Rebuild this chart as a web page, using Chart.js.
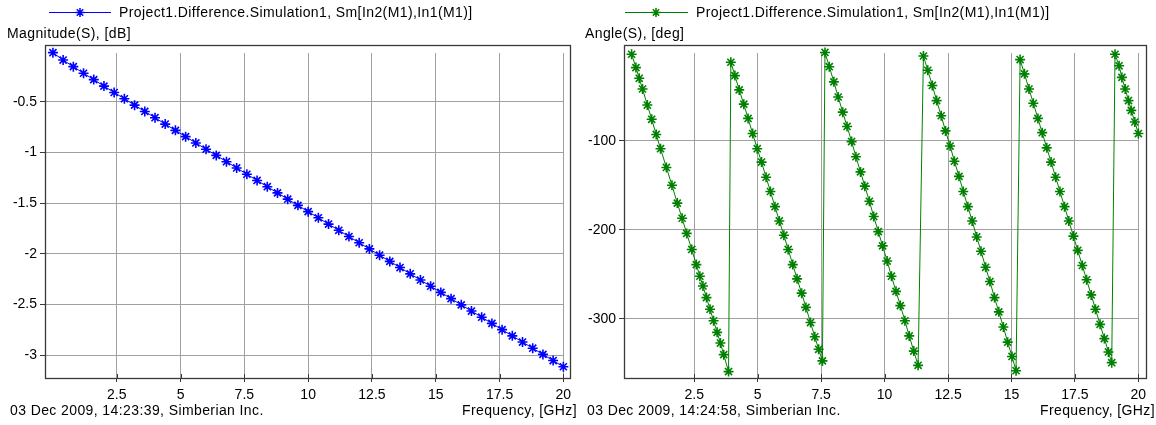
<!DOCTYPE html>
<html><head><meta charset="utf-8">
<script src="https://cdn.jsdelivr.net/npm/chart.js@4.4.0/dist/chart.umd.min.js"></script>
<style>
html,body{margin:0;padding:0;background:#fff;}
#wrap{position:relative;width:1156px;height:425px;overflow:hidden;background:#fff;}
canvas{position:absolute;top:0;}
#c1{left:0;}
#c2{left:578px;}
</style></head><body>
<div id="wrap"><canvas id="c1" width="578" height="425"></canvas><canvas id="c2" width="578" height="425"></canvas></div>
<script>
const SERIES_NAME = 'Project1.Difference.Simulation1, Sm[In2(M1),In1(M1)]';
const MAG_TITLE = 'Magnitude(S), [dB]';
const ANG_TITLE = 'Angle(S), [deg]';
const MAG_STAMP = '03 Dec 2009, 14:23:39, Simberian Inc.';
const ANG_STAMP = '03 Dec 2009, 14:24:58, Simberian Inc.';
const X_TITLE = 'Frequency, [GHz]';

const X_TICKS = [2.5, 5, 7.5, 10, 12.5, 15, 17.5, 20];
const X_TICK_LABELS = ['2.5', '5', '7.5', '10', '12.5', '15', '17.5', '20'];
const MAG_TICKS = [-0.5, -1, -1.5, -2, -2.5, -3];
const MAG_TICK_LABELS = ['-0.5', '-1', '-1.5', '-2', '-2.5', '-3'];
const ANG_TICKS = [-100, -200, -300];
const ANG_TICK_LABELS = ['-100', '-200', '-300'];

const MAG_FREQ = [0, 0.4, 0.8, 1.2, 1.6, 2, 2.4, 2.8, 3.2, 3.6, 4, 4.4, 4.8, 5.2, 5.6, 6, 6.4, 6.8, 7.2, 7.6,
  8, 8.4, 8.8, 9.2, 9.6, 10, 10.4, 10.8, 11.2, 11.6, 12, 12.4, 12.8, 13.2, 13.6, 14, 14.4, 14.8, 15.2, 15.6,
  16, 16.4, 16.8, 17.2, 17.6, 18, 18.4, 18.8, 19.2, 19.6, 20];
const MAG_DB = [-0.016, -0.089, -0.154, -0.219, -0.282, -0.346, -0.409, -0.471, -0.534, -0.596, -0.658, -0.721,
  -0.783, -0.845, -0.907, -0.969, -1.030, -1.092, -1.154, -1.216, -1.277, -1.339, -1.400, -1.462, -1.523, -1.585,
  -1.646, -1.708, -1.769, -1.831, -1.892, -1.953, -2.015, -2.076, -2.137, -2.199, -2.260, -2.321, -2.382, -2.444,
  -2.505, -2.566, -2.627, -2.688, -2.750, -2.811, -2.872, -2.933, -2.994, -3.055, -3.116];

const ANG_FREQ = [
  0.03, 0.2, 0.33, 0.46, 0.65, 0.82, 1.0, 1.17, 1.4, 1.62, 1.83, 2.02, 2.2, 2.4, 2.58, 2.72, 2.84, 2.98, 3.12, 3.26, 3.4, 3.53, 3.66, 3.85,
  3.94, 4.1, 4.27, 4.45, 4.62, 4.8, 4.98, 5.15, 5.33, 5.5, 5.68, 5.85, 6.03, 6.2, 6.38, 6.55, 6.73, 6.9, 7.08, 7.25, 7.4, 7.55,
  7.65, 7.82, 8.0, 8.17, 8.35, 8.52, 8.7, 8.87, 9.05, 9.22, 9.4, 9.57, 9.75, 9.92, 10.1, 10.27, 10.45, 10.62, 10.8, 10.97, 11.15, 11.32,
  11.53, 11.7, 11.88, 12.05, 12.23, 12.4, 12.58, 12.75, 12.93, 13.1, 13.28, 13.45, 13.63, 13.8, 13.98, 14.15, 14.33, 14.5, 14.68, 14.85, 15.02, 15.18,
  15.34, 15.51, 15.69, 15.86, 16.04, 16.21, 16.39, 16.56, 16.74, 16.91, 17.09, 17.26, 17.44, 17.61, 17.79, 17.96, 18.14, 18.31, 18.49, 18.66, 18.82, 18.95,
  19.08, 19.24, 19.35, 19.48, 19.61, 19.72, 19.86, 20.0];
const ANG_DEG = [
  -3, -18, -30, -42, -60, -76, -93, -109, -130, -150, -170, -187, -204, -222, -239, -252, -263, -276, -289, -302, -315, -327, -340, -359,
  -12, -27, -43, -59, -75, -92, -109, -124, -141, -157, -174, -190, -206, -222, -239, -255, -271, -287, -304, -320, -334, -347,
  -1, -17, -34, -51, -68, -84, -101, -118, -135, -151, -168, -185, -202, -218, -235, -252, -269, -285, -302, -319, -336, -352,
  -5, -21, -38, -55, -72, -89, -106, -123, -140, -157, -174, -190, -208, -224, -242, -258, -276, -292, -309, -326, -342, -358,
  -9, -25, -42, -58, -75, -91, -108, -124, -141, -157, -174, -190, -207, -223, -240, -256, -273, -289, -306, -322, -337, -349,
  -3, -16, -29, -42, -55, -66, -79, -92];

const FONT_FAMILY = '"Liberation Sans", Arial, sans-serif';
const FONT_SIZE = 14;
Chart.defaults.font.family = FONT_FAMILY;
Chart.defaults.font.size = FONT_SIZE;
Chart.defaults.color = '#000';

function drawStar(ctx, cx, cy, r) {
  const d = r * Math.SQRT1_2;
  ctx.beginPath();
  ctx.moveTo(cx - r, cy); ctx.lineTo(cx + r, cy);
  ctx.moveTo(cx, cy - r); ctx.lineTo(cx, cy + r);
  ctx.moveTo(cx - d, cy - d); ctx.lineTo(cx + d, cy + d);
  ctx.moveTo(cx - d, cy + d); ctx.lineTo(cx + d, cy - d);
  ctx.stroke();
}

function decor(o) {
  return {
    id: 'decor',
    beforeDatasetsDraw(chart) {
      const {ctx, chartArea: a, scales: {x, y}} = chart;
      const L = Math.round(a.left), R = Math.round(a.right), T = Math.round(a.top), B = Math.round(a.bottom);
      const gx = Math.round(x.getPixelForValue(o.gridEndX));
      const gy = Math.round(y.getPixelForValue(o.gridTopY));
      ctx.save();
      ctx.fillStyle = '#fff';
      ctx.fillRect(L, T, R - L, gy - T);
      ctx.fillRect(gx + 1, T, R - gx - 1, B - T);
      ctx.strokeStyle = '#3a3a3a';
      ctx.lineWidth = 1;
      ctx.beginPath();
      x.ticks.forEach(t => {
        const px = Math.round(x.getPixelForValue(t.value)) + 0.5;
        ctx.moveTo(px, B - 4); ctx.lineTo(px, B);
      });
      ctx.stroke();
      ctx.lineWidth = 1.3;
      ctx.strokeRect(L + 0.5, T + 0.5, R - L - 1, B - T);
      ctx.restore();
    },
    afterDraw(chart) {
      const ctx = chart.ctx;
      ctx.save();
      ctx.font = FONT_SIZE + 'px ' + FONT_FAMILY;
      if ('letterSpacing' in ctx) ctx.letterSpacing = '0.4px';
      ctx.fillStyle = '#000';
      ctx.textBaseline = 'middle';
      ctx.textAlign = 'left';
      // legend sample
      ctx.strokeStyle = o.color;
      ctx.lineWidth = 1;
      ctx.beginPath();
      ctx.moveTo(o.legX0, 12.5); ctx.lineTo(o.legX1, 12.5);
      ctx.stroke();
      ctx.lineWidth = 1.5;
      drawStar(ctx, o.legStar, 12.5, 4.5);
      ctx.fillText(SERIES_NAME, o.legText, 13);
      ctx.fillText(o.title, o.titleX, 34);
      ctx.fillText(o.stamp, o.stampX, 411);
      ctx.textAlign = 'right';
      ctx.fillText(X_TITLE, 577, 411);
      ctx.restore();
    }
  };
}

function build(id, freq, vals, o) {
  const pts = freq.map((f, i) => ({x: f, y: vals[i]}));
  return new Chart(document.getElementById(id), {
    type: 'line',
    data: {datasets: [{
      label: SERIES_NAME, data: pts,
      borderColor: o.color, backgroundColor: o.color, borderWidth: 1, tension: 0, fill: false,
      pointStyle: 'star', pointRadius: 5, pointBorderWidth: 1.6,
      pointBorderColor: o.color, pointBackgroundColor: o.color
    }]},
    options: {
      responsive: false, animation: false, events: [],
      layout: {padding: {left: 0, top: 45, right: o.padRight, bottom: 7}},
      plugins: {legend: {display: false}, title: {display: false}, tooltip: {enabled: false}},
      scales: {
        x: {
          type: 'linear', min: o.xmin, max: o.xmax,
          afterBuildTicks: s => { s.ticks = X_TICKS.map(v => ({value: v})); },
          afterFit: s => { s.height = 40; },
          ticks: {callback: (v, i) => X_TICK_LABELS[i], color: '#000', padding: 5, maxRotation: 0, autoSkip: false},
          grid: {color: '#a0a0a0', tickColor: '#3a3a3a', tickLength: 4, lineWidth: 1},
          border: {display: false}
        },
        y: {
          type: 'linear', min: o.ymin, max: o.ymax,
          afterBuildTicks: s => { s.ticks = o.ticks.map(v => ({value: v})); },
          afterFit: s => { s.width = o.yWidth; },
          ticks: {callback: (v, i) => o.tickLabels[i], color: '#000', padding: 3, autoSkip: false},
          grid: {color: '#a0a0a0', tickColor: '#3a3a3a', tickLength: 5, lineWidth: 1},
          border: {display: false}
        }
      }
    },
    plugins: [decor(o)]
  });
}

build('c1', MAG_FREQ, MAG_DB, {
  color: '#0000ff', title: MAG_TITLE, stamp: MAG_STAMP,
  ticks: MAG_TICKS, tickLabels: MAG_TICK_LABELS,
  xmin: -0.31, xmax: 20.3, ymin: -3.227, ymax: 0.0596,
  yWidth: 45, padRight: 7, gridEndX: 20, gridTopY: -0.016,
  legX0: 49, legX1: 111, legStar: 80, legText: 119, titleX: 7, stampX: 10
});
build('c2', ANG_FREQ, ANG_DEG, {
  color: '#008000', title: ANG_TITLE, stamp: ANG_STAMP,
  ticks: ANG_TICKS, tickLabels: ANG_TICK_LABELS,
  xmin: -0.27, xmax: 20.34, ymin: -366.2, ymax: 7.35,
  yWidth: 46, padRight: 9, gridEndX: 20, gridTopY: -1.3,
  legX0: 47, legX1: 110, legStar: 78, legText: 118, titleX: 7, stampX: 9
});
</script>
</body></html>
